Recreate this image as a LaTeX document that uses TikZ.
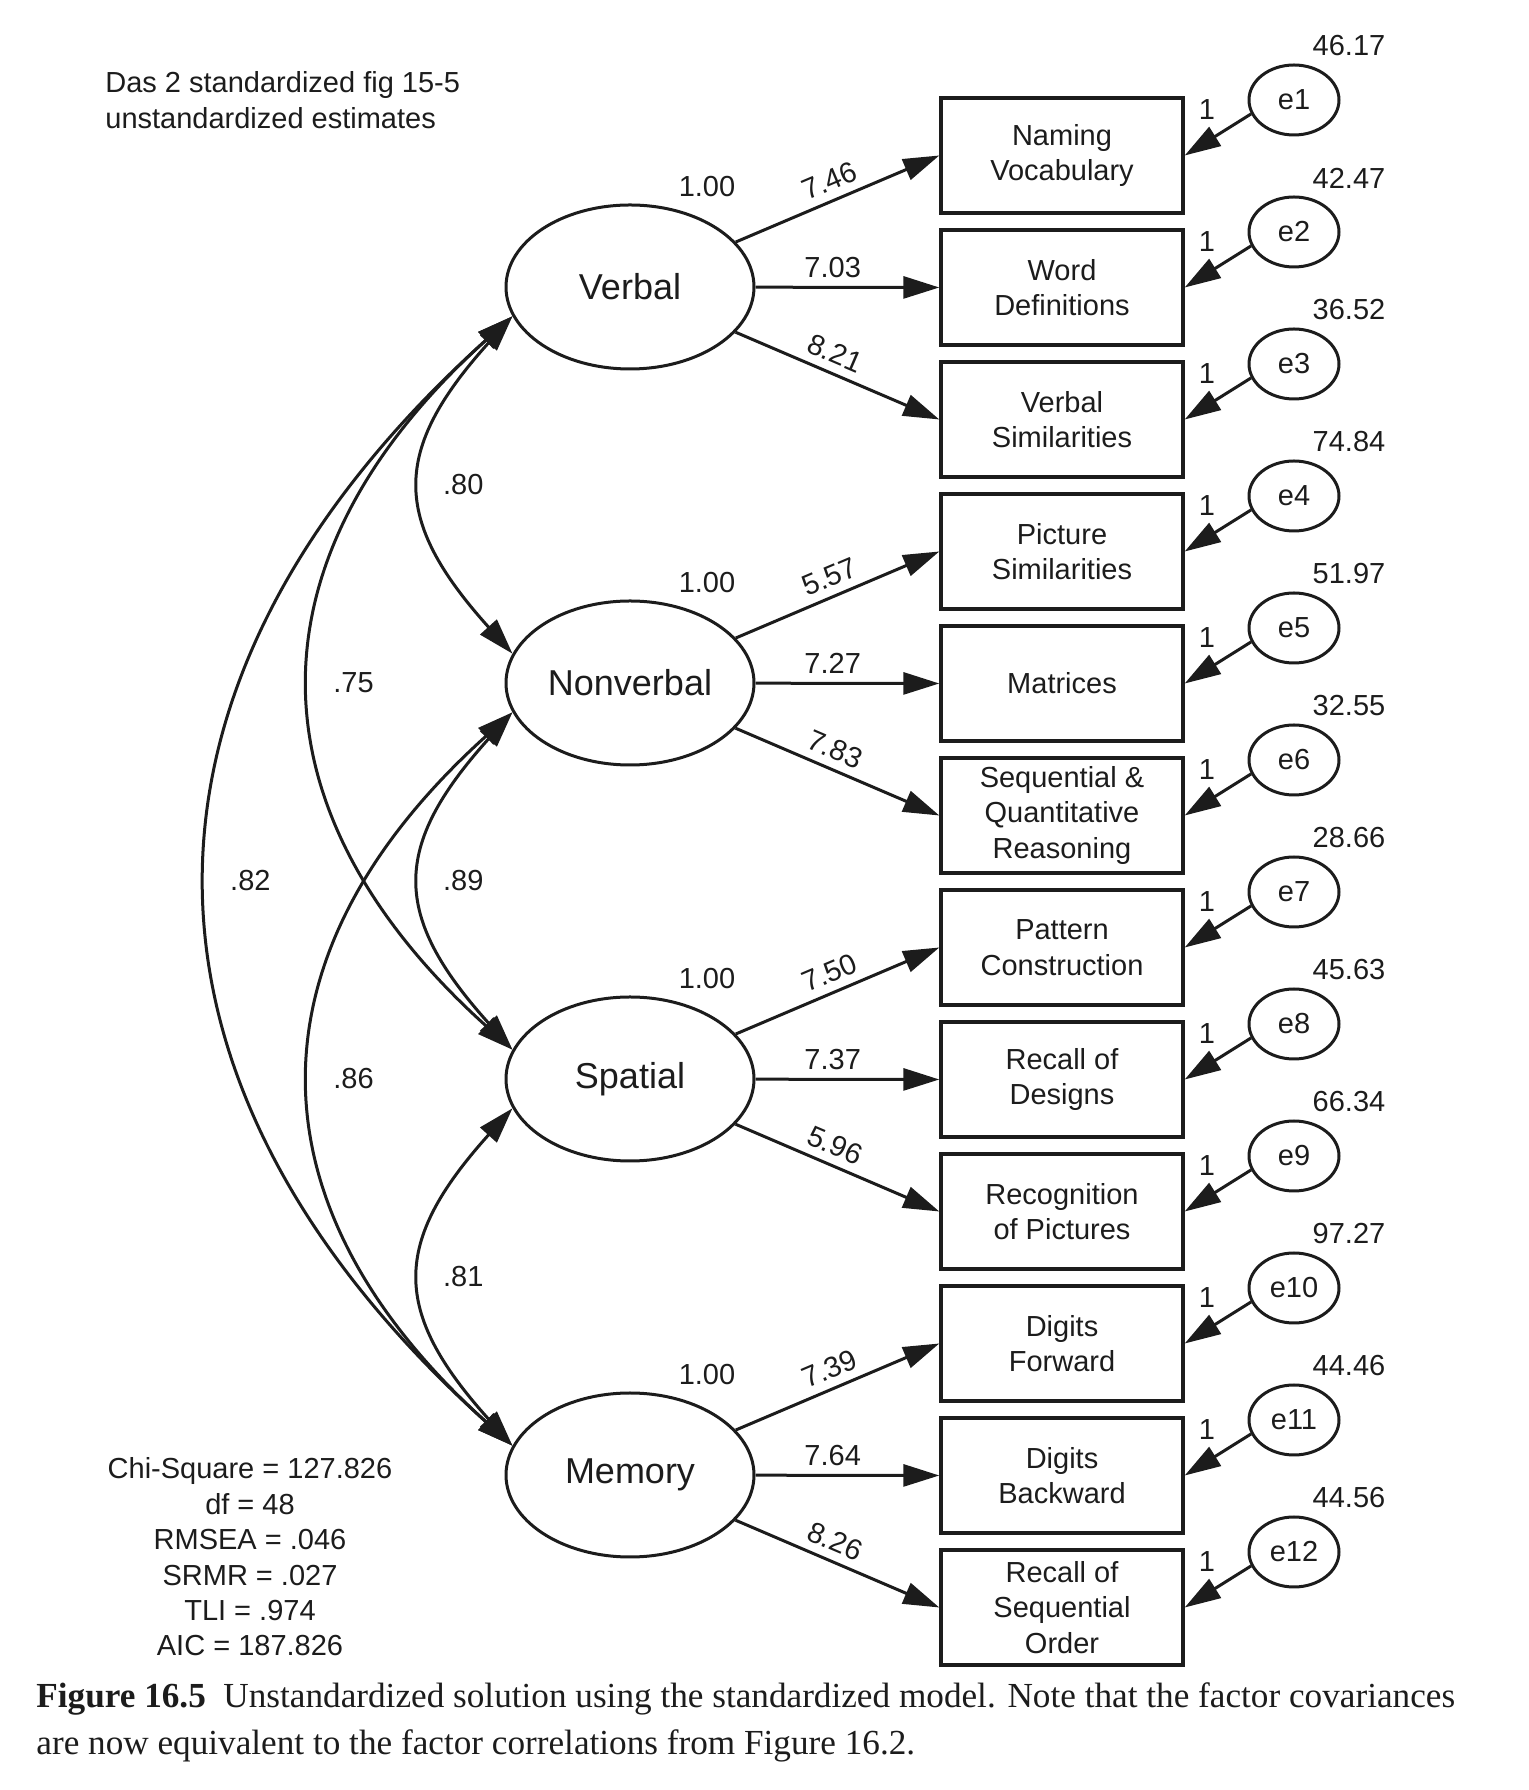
\documentclass[tikz,border=0pt]{standalone}
\usepackage{fontspec}
\setmainfont{Liberation Sans}
\newfontfamily\capfont{Liberation Serif}
\usetikzlibrary{positioning,arrows.meta,shapes.geometric}
\definecolor{InkBlack}{RGB}{28,28,28}
\tikzset{
  load/.style={-{Triangle[length=18pt,width=11pt]},line width=1.5pt,draw=InkBlack},
  cov/.style={{Triangle[length=18pt,width=11pt]}-{Triangle[length=18pt,width=11pt]},line width=1.5pt,draw=InkBlack},
  factor/.style={ellipse,draw=InkBlack,line width=1.5pt,minimum width=124pt,minimum height=82pt,
    inner sep=0pt,font=\fontsize{18}{21}\selectfont},
  obsbox/.style={draw=InkBlack,line width=1.7pt,minimum width=121pt,minimum height=57.5pt,
    inner sep=1pt,align=center,font=\fontsize{14.5}{17.7}\selectfont},
  errnode/.style={ellipse,draw=InkBlack,line width=1.5pt,minimum width=45pt,minimum height=35pt,
    inner sep=0pt,font=\fontsize{14.5}{17.7}\selectfont},
  num/.style={inner sep=2pt,font=\fontsize{14.5}{17.7}\selectfont}
}

\begin{document}
\begin{tikzpicture}[x=0.5pt,y=0.5pt,color=InkBlack,node distance=6.8pt]
  \useasboundingbox (0,0) rectangle (1528,1790);
  % factors
  \node[factor] (verbal) at (630,1503) {Verbal};
  \node[factor] (nonverbal) at (630,1107) {Nonverbal};
  \node[factor] (spatial) at (630,711) {Spatial};
  \node[factor] (memory) at (630,315) {Memory};
  \node[num] at ([shift={(77,100)}]verbal) {1.00};
  \node[num] at ([shift={(77,100)}]nonverbal) {1.00};
  \node[num] at ([shift={(77,100)}]spatial) {1.00};
  \node[num] at ([shift={(77,100)}]memory) {1.00};
  % subtests
  \node[obsbox] (namvoc) at (1062,1634.5) {Naming\\Vocabulary};
  \node[obsbox,below=of namvoc] (worddef) {Word\\Definitions};
  \node[obsbox,below=of worddef] (verbsim) {Verbal\\Similarities};
  \node[obsbox,below=of verbsim] (picsim) {Picture\\Similarities};
  \node[obsbox,below=of picsim] (matrices) {Matrices};
  \node[obsbox,below=of matrices] (seqquant) {Sequential \&\\Quantitative\\Reasoning};
  \node[obsbox,below=of seqquant] (patcon) {Pattern\\Construction};
  \node[obsbox,below=of patcon] (recdes) {Recall of\\Designs};
  \node[obsbox,below=of recdes] (recpic) {Recognition\\of Pictures};
  \node[obsbox,below=of recpic] (digfor) {Digits\\Forward};
  \node[obsbox,below=of digfor] (digback) {Digits\\Backward};
  \node[obsbox,below=of digback] (recseq) {Recall of\\Sequential\\Order};
  % loadings
  \draw[load] (verbal) -- node[num,pos=.5,above=2pt,sloped] {7.46} (namvoc.west);
  \draw[load] (verbal) -- node[num,pos=.42,above=2pt] {7.03} (worddef.west);
  \draw[load] (verbal) -- node[num,pos=.45,above=2pt,sloped] {8.21} (verbsim.west);
  \draw[load] (nonverbal) -- node[num,pos=.5,above=2pt,sloped] {5.57} (picsim.west);
  \draw[load] (nonverbal) -- node[num,pos=.42,above=2pt] {7.27} (matrices.west);
  \draw[load] (nonverbal) -- node[num,pos=.45,above=2pt,sloped] {7.83} (seqquant.west);
  \draw[load] (spatial) -- node[num,pos=.5,above=2pt,sloped] {7.50} (patcon.west);
  \draw[load] (spatial) -- node[num,pos=.42,above=2pt] {7.37} (recdes.west);
  \draw[load] (spatial) -- node[num,pos=.45,above=2pt,sloped] {5.96} (recpic.west);
  \draw[load] (memory) -- node[num,pos=.5,above=2pt,sloped] {7.39} (digfor.west);
  \draw[load] (memory) -- node[num,pos=.42,above=2pt] {7.64} (digback.west);
  \draw[load] (memory) -- node[num,pos=.45,above=2pt,sloped] {8.26} (recseq.west);
  % errors
  \node[errnode] (e1) at (1294,1690) {e1};
  \node[errnode] (e2) at (1294,1558) {e2};
  \node[errnode] (e3) at (1294,1426) {e3};
  \node[errnode] (e4) at (1294,1294) {e4};
  \node[errnode] (e5) at (1294,1162) {e5};
  \node[errnode] (e6) at (1294,1030) {e6};
  \node[errnode] (e7) at (1294,898) {e7};
  \node[errnode] (e8) at (1294,766) {e8};
  \node[errnode] (e9) at (1294,634) {e9};
  \node[errnode] (e10) at (1294,502) {e10};
  \node[errnode] (e11) at (1294,370) {e11};
  \node[errnode] (e12) at (1294,238) {e12};
  \draw[load] (e1.198) -- (namvoc.east);
  \draw[load] (e2.198) -- (worddef.east);
  \draw[load] (e3.198) -- (verbsim.east);
  \draw[load] (e4.198) -- (picsim.east);
  \draw[load] (e5.198) -- (matrices.east);
  \draw[load] (e6.198) -- (seqquant.east);
  \draw[load] (e7.198) -- (patcon.east);
  \draw[load] (e8.198) -- (recdes.east);
  \draw[load] (e9.198) -- (recpic.east);
  \draw[load] (e10.198) -- (digfor.east);
  \draw[load] (e11.198) -- (digback.east);
  \draw[load] (e12.198) -- (recseq.east);
  % fixed paths and variances
  \node[num] at ([shift={(-87,-10)}]e1) {1};
  \node[num] at ([shift={(-87,-10)}]e2) {1};
  \node[num] at ([shift={(-87,-10)}]e3) {1};
  \node[num] at ([shift={(-87,-10)}]e4) {1};
  \node[num] at ([shift={(-87,-10)}]e5) {1};
  \node[num] at ([shift={(-87,-10)}]e6) {1};
  \node[num] at ([shift={(-87,-10)}]e7) {1};
  \node[num] at ([shift={(-87,-10)}]e8) {1};
  \node[num] at ([shift={(-87,-10)}]e9) {1};
  \node[num] at ([shift={(-87,-10)}]e10) {1};
  \node[num] at ([shift={(-87,-10)}]e11) {1};
  \node[num] at ([shift={(-87,-10)}]e12) {1};
  \node[num] at ([shift={(55,54)}]e1) {46.17};
  \node[num] at ([shift={(55,54)}]e2) {42.47};
  \node[num] at ([shift={(55,54)}]e3) {36.52};
  \node[num] at ([shift={(55,54)}]e4) {74.84};
  \node[num] at ([shift={(55,54)}]e5) {51.97};
  \node[num] at ([shift={(55,54)}]e6) {32.55};
  \node[num] at ([shift={(55,54)}]e7) {28.66};
  \node[num] at ([shift={(55,54)}]e8) {45.63};
  \node[num] at ([shift={(55,54)}]e9) {66.34};
  \node[num] at ([shift={(55,54)}]e10) {97.27};
  \node[num] at ([shift={(55,54)}]e11) {44.46};
  \node[num] at ([shift={(55,54)}]e12) {44.56};
  % factor covariances
  \draw[cov] (verbal.194) .. controls +(228:181) and +(132:181) .. node[num,right=8pt] {.80} (nonverbal.166);
  \draw[cov] (nonverbal.194) .. controls +(228:181) and +(132:181) .. node[num,right=8pt] {.89} (spatial.166);
  \draw[cov] (spatial.194) .. controls +(228:181) and +(132:181) .. node[num,right=8pt] {.81} (memory.166);
  \draw[cov] (verbal.194) .. controls +(222:360) and +(138:360) .. node[num,right=8pt] {.75} (spatial.166);
  \draw[cov] (nonverbal.194) .. controls +(222:360) and +(138:360) .. node[num,right=8pt] {.86} (memory.166);
  \draw[cov] (verbal.194) .. controls +(222:545) and +(138:545) .. node[num,right=8pt] {.82} (memory.166);
  % notes
  \node[num,anchor=west,align=left,inner sep=0pt] (title) at (105,1690) {Das 2 standardized fig 15-5\\unstandardized estimates};
  \node[num,align=center] (fitstats) at (250,233) {Chi-Square = 127.826\\df = 48\\RMSEA = .046\\SRMR = .027\\TLI = .974\\AIC = 187.826};
  \node[anchor=west,align=left,inner sep=0pt,font=\capfont\fontsize{17.6}{23.5}\selectfont] (caption) at (36,68) {\textbf{Figure 16.5}\enspace Unstandardized solution using the standardized model. Note that the factor covariances\\are now equivalent to the factor correlations from Figure 16.2.};
\end{tikzpicture}
\end{document}
